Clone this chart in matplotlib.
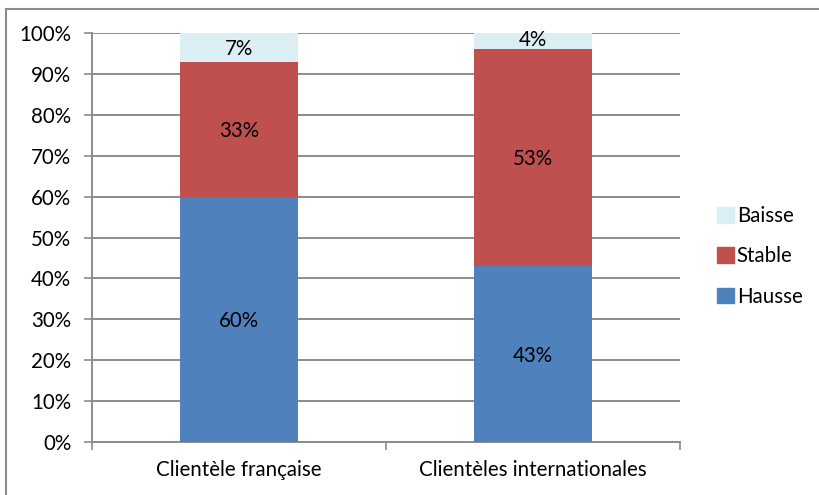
import matplotlib
matplotlib.use("Agg")
import matplotlib.pyplot as plt
from matplotlib.patches import Patch
from matplotlib.lines import Line2D
import numpy as np

categories = ["Clientèle française", "Clientèles internationales"]
hausse = [60, 43]
stable = [33, 53]
baisse = [7, 4]
series_names = ["Hausse", "Stable", "Baisse"]
colors = ["#4F81BD", "#C0504D", "#DAEEF3"]

plt.rcParams['font.family'] = ['Lato', 'DejaVu Sans']
FS = 14.8

fig = plt.figure(figsize=(8.19, 4.95), dpi=100)
ax = fig.add_axes([92/819, 1-442/495, (680-92)/819, (442-33)/495])

x = np.arange(len(categories))
w = 0.4
bottom = np.zeros(len(categories))
handles = []
for vals, name, col in zip([hausse, stable, baisse], series_names, colors):
    ax.bar(x, vals, w, bottom=bottom, color=col, label=name, zorder=3)
    for xi, v, b in zip(x, vals, bottom):
        ax.text(xi, b + v/2 + (0.3 if v < 5 else -0.4), f"{v}%", ha='center', va='center',
                fontsize=FS, color='black', zorder=4)
    bottom += np.array(vals)
    handles.append(Patch(color=col, label=name))

ax.set_xlim(-0.5, 1.5)
ax.set_ylim(0, 100)
ax.set_yticks(np.arange(0, 101, 10))
ax.set_yticklabels([f"{v}%" for v in range(0, 101, 10)], fontsize=FS)
ax.yaxis.grid(True, color='#8C8C8C', linewidth=1.4, zorder=0)
ax.set_axisbelow(True)

ax.set_xticks([-0.5, 0.5, 1.5])
ax.set_xticklabels([])
ax.set_xticks(x, minor=True)
ax.set_xticklabels(categories, minor=True, fontsize=FS)
ax.tick_params(axis='x', which='minor', length=0, pad=13)
ax.tick_params(axis='x', which='major', length=6, width=1.2, color='#8C8C8C', direction='out')
ax.tick_params(axis='y', length=6, width=1.2, color='#8C8C8C', direction='out', pad=9)

for s in ['top', 'right']:
    ax.spines[s].set_visible(False)
for s in ['left', 'bottom']:
    ax.spines[s].set_color('#8C8C8C')
    ax.spines[s].set_linewidth(1.4)

fig.legend(handles=handles[::-1], loc='upper left', bbox_to_anchor=(707/819, 1-196/495),
           frameon=False, fontsize=FS, handlelength=0.8, handleheight=0.8,
           handletextpad=0.15, labelspacing=0.98, borderpad=0)

fig.add_artist(Line2D([6/819, 6/819], [0, 1-9/495], transform=fig.transFigure, color='#8C8C8C', linewidth=1.5))
fig.add_artist(Line2D([6/819, 1], [1-9/495, 1-9/495], transform=fig.transFigure, color='#8C8C8C', linewidth=1.5))

fig.savefig("out.png", dpi=100)
